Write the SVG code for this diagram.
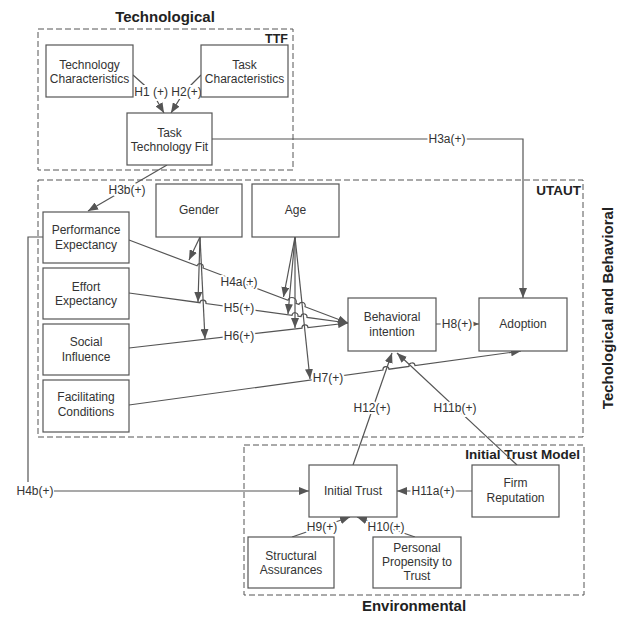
<svg xmlns="http://www.w3.org/2000/svg" width="620" height="618" viewBox="0 0 620 618">
<style>
.bx{fill:#fff;stroke:#555;stroke-width:1.2}
.grp{fill:none;stroke:#555;stroke-width:1;stroke-dasharray:6 3}
.t{font-family:"Liberation Sans",Arial,sans-serif;font-size:12px;fill:#333;text-anchor:middle}
.h{font-family:"Liberation Sans",Arial,sans-serif;font-size:12px;fill:#333;text-anchor:middle;stroke:#fff;stroke-width:4;paint-order:stroke;stroke-linejoin:round}
.ttl{font-family:"Liberation Sans",Arial,sans-serif;font-weight:bold;fill:#222}
.ln{fill:none;stroke:#555;stroke-width:1.2}
.a{marker-end:url(#arr)}
</style>
<defs>
<marker id="arr" viewBox="0 0 10 8" refX="10" refY="4" markerWidth="10" markerHeight="8" orient="auto" markerUnits="userSpaceOnUse">
<path d="M0,0 L10,4 L0,8 z" fill="#555"/>
</marker>
</defs>
<rect width="620" height="618" fill="#fff"/>

<g id="groups">
<rect class="grp" x="38" y="29" width="255" height="141"/>
<rect class="grp" x="38" y="180" width="545" height="257"/>
<rect class="grp" x="244" y="445" width="340" height="150"/>
<text class="ttl" x="165" y="22" font-size="15" text-anchor="middle">Technological</text>
<text class="ttl" x="288" y="43" font-size="12.5" text-anchor="end">TTF</text>
<text class="ttl" x="581" y="195" font-size="13.5" text-anchor="end">UTAUT</text>
<text class="ttl" x="580" y="459" font-size="13.5" text-anchor="end">Initial Trust Model</text>
<text class="ttl" x="414" y="611" font-size="15" text-anchor="middle">Environmental</text>
<text class="ttl" x="0" y="0" font-size="15" text-anchor="middle" transform="translate(613,308) rotate(-90)">Techological and Behavioral</text>
</g>

<g id="connectors">
<path class="ln a" d="M133,75 L152,92 L164,113"/>
<path class="ln a" d="M201,75 L184,92 L171,113"/>
<rect x="136" y="85" width="64" height="14" fill="#fff"/>
<text class="h" x="168" y="96">H1 (+) H2(+)</text>

<path class="ln a" d="M212,139 L523,139 L523,298"/>
<text class="h" x="447" y="143">H3a(+)</text>

<path class="ln a" d="M167,165 L88,211"/>
<text class="h" x="127" y="194">H3b(+)</text>

<path class="ln a" d="M129,240 L197,265.8 A3,3 0 0 1 203,268 L288,300.3 A4,4 0 0 1 296,303.3 L299,304.4 A3,3 0 0 1 305,306.7 L348,323"/>
<text class="h" x="239" y="286">H4a(+)</text>

<path class="ln a" d="M129,293 L200,302.7 A3,3 0 0 1 206,303.5 L292,315.3 A3,3 0 0 1 298,316.2 L301,316.6 A3,3 0 0 1 307,317.4 L348,323"/>
<text class="h" x="239" y="312">H5(+)</text>

<path class="ln a" d="M129,348 L302,328.2 A3,3 0 0 1 308,327.6 L348,323"/>
<text class="h" x="239" y="340">H6(+)</text>

<path class="ln a" d="M129,405 L383,370 A3,3 0 0 1 389,369.2 L409,366.4 A3,3 0 0 1 415,365.6 L521,351"/>
<text class="h" x="328" y="382">H7(+)</text>

<path class="ln a" d="M200,237 L189,260"/>
<path class="ln a" d="M200,237 L198,302"/>
<path class="ln a" d="M200,237 L205,339"/>
<path class="ln a" d="M295,237 L283.5,297"/>
<path class="ln a" d="M295,237 L288,314"/>
<path class="ln a" d="M295,237 L295,328"/>
<path class="ln a" d="M295,237 L310,379"/>

<path class="ln a" d="M436,324 L479,324"/>
<text class="h" x="457" y="328">H8(+)</text>

<path class="ln" d="M43,237 L28,237 L28,482"/>
<text class="h" x="35" y="495">H4b(+)</text>
<path class="ln a" d="M54,491 L309,491"/>

<path class="ln a" d="M472,491 L397,491"/>
<text class="h" x="433" y="495">H11a(+)</text>

<path class="ln a" d="M353,465 L392,353"/>
<text class="h" x="372" y="412">H12(+)</text>
<path class="ln a" d="M517,465 L397,353"/>
<text class="h" x="455" y="412">H11b(+)</text>

<path class="ln a" d="M292,537 L350,517"/>
<text class="h" x="322" y="531">H9(+)</text>
<path class="ln a" d="M415,537 L357,517"/>
<text class="h" x="386" y="531">H10(+)</text>
</g>

<g id="tech-char"><rect class="bx" x="46" y="45" width="87" height="52"/><text class="t" x="89.5" y="69">Technology</text><text class="t" x="89.5" y="83">Characteristics</text></g>
<g id="task-char"><rect class="bx" x="201" y="45" width="87" height="52"/><text class="t" x="244.5" y="69">Task</text><text class="t" x="244.5" y="83">Characteristics</text></g>
<g id="ttf"><rect class="bx" x="127" y="113" width="85" height="52"/><text class="t" x="169.5" y="137">Task</text><text class="t" x="169.5" y="151">Technology Fit</text></g>
<g id="gender"><rect class="bx" x="156" y="184" width="86" height="53"/><text class="t" x="199" y="214">Gender</text></g>
<g id="age"><rect class="bx" x="252" y="184" width="87" height="53"/><text class="t" x="295.5" y="214">Age</text></g>
<g id="pe"><rect class="bx" x="43" y="212" width="86" height="51"/><text class="t" x="86" y="234">Performance</text><text class="t" x="86" y="249">Expectancy</text></g>
<g id="ee"><rect class="bx" x="43" y="268" width="86" height="51"/><text class="t" x="86" y="291">Effort</text><text class="t" x="86" y="305">Expectancy</text></g>
<g id="si"><rect class="bx" x="43" y="324" width="86" height="51"/><text class="t" x="86" y="346">Social</text><text class="t" x="86" y="361">Influence</text></g>
<g id="fc"><rect class="bx" x="43" y="380" width="86" height="52"/><text class="t" x="86" y="401">Facilitating</text><text class="t" x="86" y="416">Conditions</text></g>
<g id="bi"><rect class="bx" x="348" y="298" width="88" height="53"/><text class="t" x="392" y="321">Behavioral</text><text class="t" x="392" y="336">intention</text></g>
<g id="adoption"><rect class="bx" x="479" y="298" width="88" height="53"/><text class="t" x="523" y="328">Adoption</text></g>
<g id="initial-trust"><rect class="bx" x="309" y="465" width="88" height="52"/><text class="t" x="353" y="495">Initial Trust</text></g>
<g id="firm-rep"><rect class="bx" x="472" y="465" width="87" height="52"/><text class="t" x="515.5" y="487">Firm</text><text class="t" x="515.5" y="502">Reputation</text></g>
<g id="struct"><rect class="bx" x="248" y="537" width="86" height="51"/><text class="t" x="291" y="560">Structural</text><text class="t" x="291" y="574">Assurances</text></g>
<g id="propensity"><rect class="bx" x="373" y="537" width="88" height="51"/><text class="t" x="417" y="552">Personal</text><text class="t" x="417" y="566">Propensity to</text><text class="t" x="417" y="580">Trust</text></g>
</svg>
